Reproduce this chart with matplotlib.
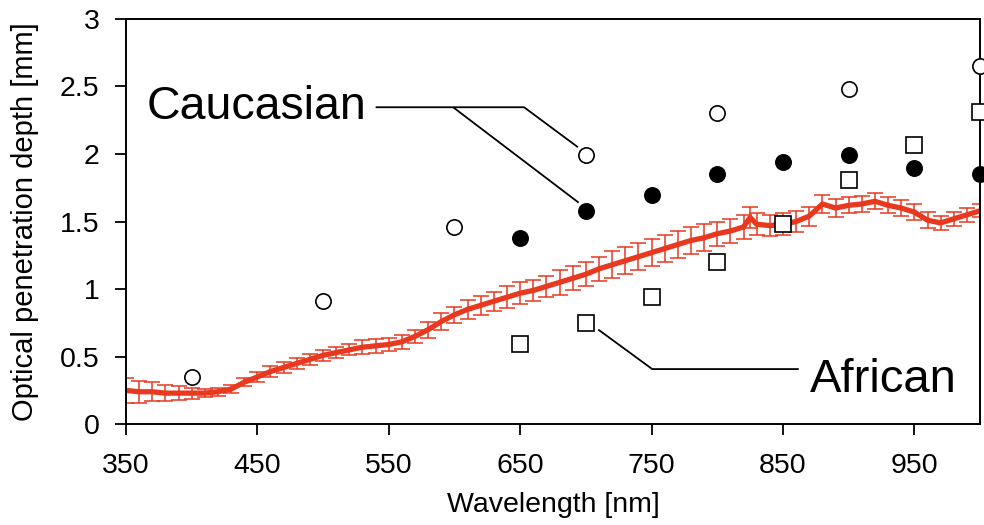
import matplotlib
matplotlib.use("Agg")
import matplotlib.pyplot as plt
from matplotlib.ticker import FuncFormatter

plt.rcParams['font.family'] = ['Liberation Sans', 'DejaVu Sans']

# Caucasian (open circles)
cau_open_wl = [400, 500, 600, 700, 800, 900, 1000]
cau_open_d = [0.35, 0.91, 1.46, 1.99, 2.30, 2.48, 2.65]
# Caucasian (filled circles)
cau_fill_wl = [650, 700, 750, 800, 850, 900, 950, 1000]
cau_fill_d = [1.38, 1.58, 1.70, 1.85, 1.94, 1.99, 1.90, 1.85]
# African (open squares)
afr_wl = [650, 700, 750, 800, 850, 900, 950, 1000]
afr_d = [0.59, 0.75, 0.94, 1.20, 1.48, 1.81, 2.07, 2.31]

# Measured curve (red) with error bars
curve_wl = [350, 360, 370, 380, 390, 400, 410, 420, 430, 440, 450, 460, 470, 480,
            490, 500, 510, 520, 530, 540, 550, 560, 570, 580, 590, 600, 610, 620,
            630, 640, 650, 660, 670, 680, 690, 700, 710, 720, 730, 740, 750, 760,
            770, 780, 790, 800, 810, 820, 825, 830, 840, 850, 860, 870, 880, 890,
            900, 910, 920, 930, 940, 950, 960, 970, 980, 990, 1000]
curve_d = [0.25, 0.24, 0.24, 0.23, 0.23, 0.23, 0.23, 0.24, 0.26, 0.31, 0.35, 0.39,
           0.42, 0.45, 0.48, 0.51, 0.53, 0.55, 0.57, 0.58, 0.59, 0.61, 0.65, 0.70,
           0.76, 0.81, 0.85, 0.88, 0.91, 0.94, 0.97, 0.99, 1.02, 1.05, 1.08, 1.11,
           1.15, 1.18, 1.21, 1.24, 1.27, 1.30, 1.33, 1.36, 1.38, 1.41, 1.43, 1.46,
           1.53, 1.48, 1.47, 1.48, 1.50, 1.54, 1.63, 1.60, 1.62, 1.63, 1.65, 1.62,
           1.60, 1.57, 1.51, 1.49, 1.52, 1.55, 1.58]
curve_err = [0.09, 0.08, 0.07, 0.06, 0.05, 0.04, 0.03, 0.03, 0.03, 0.03, 0.04, 0.04,
             0.04, 0.04, 0.04, 0.04, 0.04, 0.04, 0.05, 0.05, 0.05, 0.05, 0.05, 0.06,
             0.06, 0.06, 0.07, 0.07, 0.07, 0.08, 0.08, 0.08, 0.08, 0.09, 0.09, 0.09,
             0.09, 0.10, 0.10, 0.10, 0.10, 0.10, 0.10, 0.10, 0.10, 0.09, 0.09, 0.09,
             0.08, 0.08, 0.08, 0.08, 0.08, 0.07, 0.07, 0.07, 0.06, 0.06, 0.06, 0.06,
             0.06, 0.06, 0.06, 0.05, 0.05, 0.05, 0.05]

x_ticks = [350, 450, 550, 650, 750, 850, 950]
y_ticks = [0, 0.5, 1, 1.5, 2, 2.5, 3]

fig = plt.figure(figsize=(9.84, 5.25), dpi=100)
ax = fig.add_axes([0.128, 0.192, 0.868, 0.772])

red = '#e8381f'
ax.errorbar(curve_wl, curve_d, yerr=curve_err, color=red, lw=3.8, ecolor=red,
            elinewidth=1.1, capsize=5.5, capthick=1.1, zorder=2)

ax.plot(cau_open_wl, cau_open_d, 'o', ms=11, mfc='white', mec='black', mew=1.2,
        zorder=4, clip_on=False)
ax.plot(cau_fill_wl, cau_fill_d, 'o', ms=11, mfc='black', mec='black', mew=1.2,
        zorder=4, clip_on=False)
ax.plot(afr_wl, afr_d, 's', ms=11, mfc='white', mec='black', mew=1.2,
        zorder=4, clip_on=False)

# Annotation lines
lk = dict(color='black', lw=1.3, zorder=3, solid_capstyle='butt')
ax.plot([540, 653, 694], [2.346, 2.346, 2.05], **lk)
ax.plot([599, 694.5], [2.346, 1.64], **lk)
ax.plot([709.5, 750.5, 862], [0.70, 0.408, 0.408], **lk)

ax.text(533, 2.257, 'Caucasian', fontsize=33.5, ha='right', va='baseline')
ax.text(870.5, 0.237, 'African', fontsize=34, ha='left', va='baseline')

ax.set_xlim(350, 1000)
ax.set_ylim(0, 3)
ax.set_xticks(x_ticks)
ax.set_yticks(y_ticks)
ax.yaxis.set_major_formatter(FuncFormatter(lambda v, p: '%g' % v))
ax.tick_params(direction='out', length=8, width=1.3, labelsize=20.5)
ax.tick_params(axis='x', pad=13)
ax.tick_params(axis='y', pad=11)
for s in ax.spines.values():
    s.set_linewidth(1.4)

ax.set_xlabel('Wavelength [nm]', fontsize=20.5, labelpad=9)
ax.set_ylabel('Optical penetration depth [mm]', fontsize=21, labelpad=15)

fig.savefig('out.png', dpi=100)
